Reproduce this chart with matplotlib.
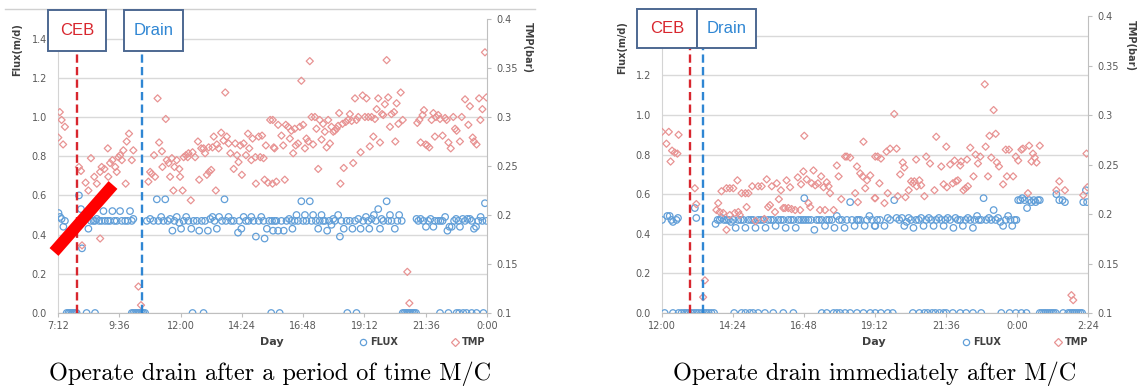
import numpy as np
import matplotlib.pyplot as plt
from matplotlib.patches import Rectangle
from matplotlib.lines import Line2D

# time is given in hours of the day (24+ = after midnight)
# ---------------- left chart: drain a while after M/C ----------------
left_flux = [
    (7.22, .51), (7.28, .49), (7.34, .48), (7.41, .44), (7.47, .47),
    (8.02, .60), (8.10, .53), (8.14, .33), (8.26, .48), (8.39, .43), (8.49, .47), (8.59, .47), (8.65, .47),
    (8.72, .48), (8.81, .47), (8.91, .47), (8.98, .52), (9.04, .47), (9.15, .47), (9.24, .47), (9.33, .52),
    (9.41, .47), (9.50, .47), (9.63, .52), (9.70, .47), (9.83, .47), (9.93, .47), (10.02, .52), (10.09, .47),
    (10.15, .48),
    (10.68, .47), (10.81, .48), (10.94, .47), (11.07, .58), (11.13, .47), (11.24, .49), (11.33, .47), (11.40, .58),
    (11.50, .47), (11.59, .48), (11.68, .42), (11.76, .47), (11.85, .49), (11.95, .46), (12.02, .43), (12.12, .47),
    (12.22, .49), (12.31, .47), (12.42, .43), (12.51, .47), (12.64, .47), (12.73, .42), (12.83, .47), (12.96, .47),
    (13.07, .42), (13.16, .48), (13.25, .49), (13.33, .47), (13.42, .43), (13.51, .49), (13.62, .47), (13.72, .58),
    (13.78, .47), (13.88, .49), (13.98, .47), (14.08, .47), (14.25, .41), (14.30, .47), (14.38, .43), (14.47, .49),
    (14.56, .47), (14.66, .47), (14.77, .49), (14.86, .47), (14.95, .39), (15.06, .47), (15.16, .49), (15.25, .47),
    (15.29, .38), (15.38, .43), (15.47, .47), (15.58, .47), (15.68, .47),
    (15.62, .42), (15.75, .47), (15.82, .42), (15.95, .47), (16.04, .42), (16.15, .47), (16.25, .48), (16.34, .47),
    (16.38, .43), (16.47, .47), (16.54, .50), (16.60, .47), (16.73, .57), (16.80, .47), (16.87, .50), (16.93, .47),
    (17.06, .57), (17.13, .47), (17.19, .50), (17.30, .47), (17.39, .43), (17.45, .47), (17.52, .50), (17.58, .47),
    (17.65, .47), (17.74, .42), (17.82, .47), (17.91, .45), (17.98, .48), (18.04, .47), (18.17, .50), (18.24, .39),
    (18.30, .47), (18.39, .43), (18.50, .47), (18.63, .47), (18.73, .43), (18.83, .47), (18.96, .48), (19.05, .43),
    (19.15, .47), (19.26, .49), (19.35, .47), (19.39, .43), (19.48, .48), (19.57, .50), (19.65, .47), (19.74, .53),
    (19.81, .43), (19.87, .48), (19.94, .47), (20.07, .57), (20.13, .47), (20.20, .50), (20.26, .47), (20.39, .43),
    (20.49, .47), (20.56, .50), (20.66, .47),
    (21.24, .48), (21.31, .47), (21.40, .48), (21.51, .47), (21.61, .44), (21.70, .47), (21.79, .48), (21.90, .44),
    (21.96, .47), (22.09, .47), (22.18, .47), (22.26, .47), (22.36, .49), (22.45, .42), (22.53, .44), (22.62, .44),
    (22.71, .47), (22.79, .48), (22.88, .47), (22.94, .44), (23.05, .48), (23.14, .47), (23.23, .48), (23.33, .48),
    (23.40, .47), (23.49, .43), (23.57, .44), (23.66, .47), (23.75, .49), (23.82, .47), (23.92, .56), (23.98, .47),
]
# times where flux was zero (stopped)
left_flux_off = [7.54, 7.61, 7.67, 7.74, 7.80, 7.87, 7.93, 8.32, 8.65,
                 10.09, 10.15, 10.22, 10.28, 10.35, 10.41, 10.48, 10.54, 10.61,
                 12.47, 12.90, 15.55, 15.88, 18.53, 18.89,
                 20.70, 20.76, 20.83, 20.89, 20.96, 21.02, 21.09, 21.15, 21.22,
                 22.16, 22.49, 22.81, 22.91, 23.07, 23.20, 23.40, 23.59, 23.86]
left_tmp = [
    (7.27, .305), (7.34, .297), (7.47, .290), (7.21, .279), (7.40, .272),
    (8.02, .249), (8.10, .245), (8.28, .233), (8.39, .225), (8.49, .258), (8.62, .239), (8.72, .232), (8.85, .244),
    (8.91, .249), (9.02, .247), (9.15, .268), (9.17, .239), (9.24, .253), (9.33, .256), (9.44, .249), (9.50, .244),
    (9.57, .259), (9.63, .261), (9.70, .256), (9.76, .266), (9.85, .232), (9.89, .275), (9.98, .283), (10.09, .256),
    (10.15, .266), (8.14, .169), (8.85, .176), (10.35, .127), (10.45, .108),
    (10.74, .234), (10.81, .244), (10.87, .242), (10.96, .261), (11.00, .239), (11.10, .319), (11.16, .274),
    (11.27, .265), (11.29, .249), (11.42, .298), (11.46, .256), (11.53, .253), (11.59, .239), (11.66, .258),
    (11.72, .225), (11.76, .249), (11.85, .256), (11.95, .247), (11.98, .239), (12.08, .225), (12.12, .259),
    (12.21, .261), (12.28, .259), (12.31, .263), (12.40, .215), (12.47, .264), (12.57, .259), (12.68, .275),
    (12.73, .236), (12.81, .268), (12.90, .268), (12.96, .263), (13.03, .241), (13.10, .269), (13.12, .244),
    (13.20, .246), (13.25, .269), (13.30, .280), (13.38, .225), (13.42, .272), (13.49, .268), (13.59, .284),
    (13.68, .276), (13.75, .325), (13.81, .280), (13.88, .273), (13.95, .263), (14.08, .247), (14.14, .273),
    (14.21, .261), (14.27, .254), (14.34, .271), (14.40, .241), (14.47, .273), (14.56, .261), (14.64, .283),
    (14.69, .268), (14.77, .256), (14.82, .278), (14.93, .259), (14.95, .232), (15.06, .280), (15.12, .259),
    (15.19, .281), (15.25, .258), (15.29, .236), (15.34, .271), (15.42, .233), (15.51, .297), (15.61, .297),
    (15.68, .268),
    (15.60, .232), (15.65, .269), (15.75, .234), (15.82, .292), (15.95, .281), (16.02, .271), (16.08, .236),
    (16.12, .292), (16.21, .290), (16.28, .278), (16.34, .286), (16.41, .263), (16.47, .288), (16.51, .271),
    (16.60, .273), (16.67, .290), (16.73, .337), (16.80, .292), (16.87, .268), (16.93, .278), (17.00, .275),
    (17.06, .357), (17.13, .300), (17.19, .272), (17.26, .300), (17.32, .288), (17.39, .247), (17.45, .297),
    (17.52, .277), (17.58, .293), (17.65, .285), (17.72, .269), (17.78, .297), (17.85, .273), (17.91, .290),
    (17.98, .285), (18.04, .286), (18.11, .288), (18.17, .291), (18.21, .304), (18.26, .232), (18.34, .293),
    (18.39, .248), (18.47, .295), (18.56, .297), (18.63, .303), (18.70, .296), (18.76, .253), (18.83, .319),
    (18.89, .297), (18.96, .300), (19.05, .264), (19.13, .322), (19.22, .300), (19.28, .319), (19.35, .300),
    (19.41, .270), (19.48, .300), (19.55, .280), (19.61, .298), (19.68, .308), (19.74, .319), (19.81, .274),
    (19.89, .303), (19.94, .302), (20.00, .313), (20.07, .358), (20.13, .320), (20.20, .290), (20.26, .303),
    (20.36, .305), (20.41, .275), (20.46, .314), (20.53, .293), (20.62, .325), (20.70, .297),
    (20.88, .142), (20.96, .110),
    (21.27, .294), (21.35, .297), (21.40, .274), (21.48, .302), (21.53, .307), (21.60, .272), (21.66, .271),
    (21.74, .269), (21.83, .297), (21.90, .304), (21.96, .280), (22.00, .300), (22.09, .302), (22.16, .298),
    (22.26, .281), (22.36, .299), (22.42, .297), (22.49, .274), (22.58, .268), (22.68, .300), (22.75, .288),
    (22.81, .286), (22.94, .275), (23.01, .300), (23.14, .318), (23.27, .292), (23.33, .311), (23.44, .279),
    (23.49, .275), (23.59, .272), (23.69, .319), (23.74, .297), (23.82, .308), (23.92, .366), (23.98, .320),
]
left_ceb = 7.95
left_drain = 10.49
left_xticks = [7.2, 9.6, 12.0, 14.4, 16.8, 19.2, 21.6, 24.0]
left_xlabels = ['7:12', '9:36', '12:00', '14:24', '16:48', '19:12', '21:36', '0:00']

# ---------------- right chart: drain right after M/C ----------------
right_flux = [
    (12.00, .47), (12.18, .49), (12.26, .49), (12.32, .47), (12.37, .46), (12.49, .47), (12.54, .48),
    (13.11, .53), (13.16, .48),
    (13.81, .45), (13.88, .47), (13.95, .47), (14.01, .48), (14.10, .47), (14.18, .47), (14.26, .47), (14.33, .46),
    (14.41, .47), (14.49, .43), (14.58, .47), (14.67, .47), (14.75, .47), (14.82, .43), (14.92, .47), (15.01, .47),
    (15.08, .47), (15.16, .43), (15.25, .47), (15.34, .47), (15.42, .47), (15.50, .43), (15.59, .47), (15.68, .47),
    (15.76, .47), (15.84, .44), (15.93, .47), (16.02, .47), (16.10, .47), (16.18, .43), (16.27, .47), (16.36, .47),
    (16.44, .47), (16.52, .43), (16.61, .47), (16.70, .47), (16.78, .47), (16.81, .58), (16.86, .47), (16.95, .47),
    (17.04, .47), (17.15, .42), (17.23, .47), (17.31, .47), (17.40, .47), (17.51, .44), (17.57, .47), (17.65, .47),
    (17.74, .47), (17.83, .43), (17.91, .49), (17.99, .47), (18.08, .47), (18.17, .43), (18.25, .47), (18.36, .56),
    (18.42, .47), (18.51, .44), (18.59, .47), (18.64, .47), (18.70, .47), (18.85, .44), (18.93, .47), (19.01, .49),
    (19.10, .47), (19.19, .44), (19.27, .47),
    (19.21, .44), (19.37, .47), (19.52, .44), (19.63, .48), (19.71, .47), (19.85, .57), (19.93, .48), (20.02, .47),
    (20.11, .48), (20.19, .44), (20.27, .46), (20.34, .48), (20.42, .47), (20.50, .43), (20.59, .47), (20.68, .47),
    (20.76, .48), (20.84, .44), (20.93, .47), (21.02, .48), (21.10, .47), (21.18, .44), (21.27, .47), (21.36, .48),
    (21.44, .47), (21.52, .44), (21.58, .47), (21.66, .48), (21.74, .47), (21.85, .43), (21.92, .48), (22.00, .47),
    (22.08, .47), (22.17, .44), (22.26, .47), (22.34, .48), (22.42, .47), (22.51, .43), (22.57, .47), (22.65, .49),
    (22.71, .47), (22.79, .47), (22.87, .58), (22.96, .47), (23.05, .48), (23.13, .47), (23.21, .52), (23.28, .47),
    (23.36, .48), (23.44, .46), (23.53, .44), (23.62, .47), (23.70, .49), (23.78, .47), (23.84, .44), (23.92, .47),
    (23.98, .47),
    (24.04, .57), (24.11, .57), (24.18, .58), (24.26, .57), (24.34, .53), (24.41, .57), (24.49, .56), (24.57, .57),
    (24.63, .56), (24.71, .57), (24.77, .57), (25.33, .60), (25.43, .57), (25.54, .57), (25.62, .56), (26.24, .56),
    (26.33, .62), (26.37, .56),
]
right_flux_off = [12.09, 12.37,
                  12.56, 12.66, 12.75, 12.82, 12.90, 12.99, 13.08, 13.16, 13.24, 13.33, 13.42, 13.50, 13.58, 13.67,
                  13.76,
                  14.44, 14.69, 14.82, 14.97, 15.08, 15.25, 15.48, 15.76, 16.10, 16.44, 17.40, 17.57, 17.80, 17.91,
                  18.02, 18.19, 18.36, 18.59, 18.81, 19.04, 19.21,
                  19.40, 19.63, 19.80, 20.48, 20.70, 20.87, 20.98, 21.13, 21.24, 21.38, 21.52, 21.61, 21.83, 22.08,
                  22.28, 22.51, 22.79, 23.47, 23.75, 23.96, 24.15, 24.32,
                  24.77, 24.84, 24.91, 24.97, 25.04, 25.11, 25.18, 25.24, 25.31, 25.56,
                  25.73, 25.80, 25.87, 25.93, 26.00, 26.07, 26.14, 26.20]
right_tmp = [
    (12.00, .283), (12.23, .283), (12.15, .271), (12.56, .280), (12.34, .264), (12.43, .262), (12.52, .261),
    (12.29, .253), (13.11, .226), (13.16, .210), (13.45, .133), (13.39, .116),
    (13.84, .204), (13.90, .211), (13.95, .202), (14.01, .223), (14.07, .201), (14.18, .226), (14.18, .184),
    (14.29, .226), (14.29, .199), (14.41, .226), (14.46, .201), (14.55, .234), (14.58, .202), (14.63, .199),
    (14.69, .221), (14.82, .221), (14.86, .207), (14.92, .221), (15.05, .228), (15.16, .193), (15.25, .228),
    (15.37, .228), (15.46, .195), (15.54, .235), (15.59, .207), (15.65, .209), (15.71, .228), (15.82, .202),
    (15.88, .231), (15.95, .215), (16.02, .224), (16.10, .206), (16.16, .206), (16.21, .234), (16.27, .206),
    (16.33, .227), (16.38, .205), (16.50, .204), (16.59, .237), (16.67, .204), (16.70, .230), (16.78, .243),
    (16.81, .279), (16.89, .235), (16.95, .211), (17.01, .207), (17.06, .231), (17.12, .244), (17.18, .229),
    (17.27, .231), (17.34, .204), (17.38, .238), (17.46, .227), (17.51, .204), (17.57, .232), (17.63, .228),
    (17.68, .221), (17.80, .204), (17.91, .249), (17.97, .238), (18.06, .215), (18.19, .258), (18.25, .258),
    (18.36, .257), (18.53, .221), (18.59, .248), (18.62, .212), (18.70, .241), (18.78, .238), (18.81, .273),
    (18.87, .226), (18.93, .234), (19.04, .239), (19.21, .258), (19.19, .216),
    (19.21, .216), (19.29, .258), (19.35, .231), (19.40, .256), (19.52, .211), (19.63, .221), (19.59, .263),
    (19.71, .266), (19.85, .301), (19.93, .266), (19.97, .218), (20.05, .240), (20.14, .252), (20.19, .247),
    (20.23, .217), (20.34, .224), (20.42, .233), (20.48, .231), (20.53, .233), (20.61, .228), (20.70, .234),
    (20.76, .229), (20.59, .255), (20.87, .218), (20.93, .258), (21.06, .251), (21.21, .224), (21.27, .278),
    (21.44, .248), (21.52, .230), (21.61, .268), (21.63, .227), (21.74, .250), (21.83, .231), (21.89, .254),
    (21.94, .233), (22.00, .234), (22.08, .249), (22.11, .253), (22.19, .224), (22.26, .226), (22.31, .255),
    (22.34, .228), (22.42, .267), (22.53, .238), (22.60, .260), (22.68, .251), (22.76, .258), (22.91, .331),
    (22.94, .268), (23.02, .238), (23.07, .279), (23.13, .257), (23.21, .305), (23.28, .281), (23.32, .252),
    (23.39, .248), (23.53, .230), (23.62, .265), (23.66, .238), (23.73, .265), (23.87, .238), (23.96, .258),
    (24.04, .254), (24.15, .265), (24.20, .266), (24.37, .221), (24.41, .269), (24.49, .253), (24.54, .261),
    (24.60, .257), (24.66, .252), (24.77, .269), (25.33, .224), (25.43, .233), (25.62, .224), (25.84, .118),
    (25.90, .113), (26.24, .219), (26.35, .261), (26.38, .227),
]
right_ceb = 12.95
right_drain = 13.39
right_xticks = [12.0, 14.4, 16.8, 19.2, 21.6, 24.0, 26.4]
right_xlabels = ['12:00', '14:24', '16:48', '19:12', '21:36', '0:00', '2:24']

flux_ticks = [0.0, 0.2, 0.4, 0.6, 0.8, 1.0, 1.2, 1.4]
tmp_ticks = [0.1, 0.15, 0.2, 0.25, 0.3, 0.35, 0.4]
tmp_labels = ['0.1', '0.15', '0.2', '0.25', '0.3', '0.35', '0.4']

W, H = 1141, 389
flux_c = '#629fd8'
tmp_c = '#e89393'
ceb_c = '#d8262e'
drain_c = '#2f86d3'
grid_c = '#d9d9d9'
txt_c = '#595959'
box_ec = '#4d6892'


def draw_chart(ax, flux, flux_off, tmp, ceb, drain, xticks, xlabels, ceb_box, drain_box, leg_xy):
    ax.set_xlim(xticks[0], xticks[-1])
    ax.set_ylim(0, 1.5)
    ax.set_yticks(flux_ticks)
    ax.set_yticklabels(['%.1f' % v for v in flux_ticks])
    ax.set_xticks(xticks)
    ax.set_xticklabels(xlabels)
    ax.yaxis.grid(True, color=grid_c, lw=1.0)
    ax.set_axisbelow(True)
    for s in ['top', 'right']:
        ax.spines[s].set_visible(False)
    ax.spines['left'].set_color('#d4d4d4')
    ax.spines['bottom'].set_color('#bfbfbf')
    ax.tick_params(axis='x', length=3, color='#bfbfbf', labelcolor=txt_c, labelsize=7, pad=3)
    ax.tick_params(axis='y', length=0, labelcolor=txt_c, labelsize=7, pad=8)

    f = np.array(flux)
    ax.scatter(f[:, 0], f[:, 1], s=22, facecolors='none', edgecolors=flux_c, linewidths=0.9, zorder=3)
    ax.scatter(flux_off, np.zeros(len(flux_off)), s=22, facecolors='none', edgecolors=flux_c,
               linewidths=0.9, zorder=3)

    ax2 = ax.twinx()
    ax2.set_ylim(0.1, 0.4)
    ax2.set_yticks(tmp_ticks)
    ax2.set_yticklabels(tmp_labels)
    for s in ['top', 'left', 'bottom']:
        ax2.spines[s].set_visible(False)
    ax2.spines['right'].set_color('#bfbfbf')
    ax2.tick_params(axis='y', length=3, color='#bfbfbf', labelcolor=txt_c, labelsize=7, pad=4)
    t = np.array(tmp)
    ax2.scatter(t[:, 0], t[:, 1], marker='D', s=13, facecolors='none', edgecolors=tmp_c, linewidths=0.9, zorder=3)

    top = ceb_box[3]
    ax2.axvline(ceb, ymax=top, color=ceb_c, ls=(0, (3.5, 1.8)), lw=1.7, zorder=4)
    ax2.axvline(drain, ymax=top, color=drain_c, ls=(0, (3.5, 1.8)), lw=1.7, zorder=4)

    for (x0, x1, y1, y0), label, c in [(ceb_box, 'CEB', ceb_c), (drain_box, 'Drain', drain_c)]:
        r = Rectangle((x0, y0), x1 - x0, y1 - y0, transform=ax.transAxes, fc='white', ec=box_ec,
                      lw=1.4, zorder=10)
        fig.add_artist(r)
        fig.text((x0 + x1) / 2, (y0 + y1) / 2, label, transform=ax.transAxes, ha='center', va='center',
                 color=c, fontsize=12, family='Liberation Sans', zorder=11)

    hs = [Line2D([], [], ls='', marker='o', ms=4.5, mfc='none', mec=flux_c, mew=0.9),
          Line2D([], [], ls='', marker='D', ms=3.6, mfc='none', mec=tmp_c, mew=0.9)]
    leg = ax.legend(hs, ['FLUX', 'TMP'], loc='center', bbox_to_anchor=leg_xy, ncol=2, frameon=False,
                    fontsize=7, handlelength=0.8, handletextpad=0.3, columnspacing=5.5,
                    bbox_transform=ax.transAxes)
    for tx in leg.get_texts():
        tx.set_color('#404040')
        tx.set_fontweight('bold')
    return ax2


fig = plt.figure(figsize=(W / 100, H / 100), dpi=100)
axL = fig.add_axes([58 / W, 1 - 313 / H, 429 / W, 294 / H])
axR = fig.add_axes([662 / W, 1 - 313 / H, 426 / W, 297 / H])

# boxes: (x0, x1, ytop, ybottom) in axes fraction
draw_chart(axL, left_flux, left_flux_off, left_tmp, left_ceb, left_drain, left_xticks, left_xlabels,
           (-0.023, 0.112, 1.031, 0.891), (0.154, 0.291, 1.031, 0.891), (0.85, -0.099))
draw_chart(axR, right_flux, right_flux_off, right_tmp, right_ceb, right_drain, right_xticks, right_xlabels,
           (-0.059, 0.082, 1.024, 0.892), (0.082, 0.221, 1.024, 0.892), (0.853, -0.098))

# axis titles
for x, y, s, rot in [(17, 50, 'Flux(m/d)', 90), (528, 48, 'TMP(bar)', 270),
                     (622, 48, 'Flux(m/d)', 90), (1131, 46, 'TMP(bar)', 270)]:
    fig.text(x / W, 1 - y / H, s, rotation=rot, ha='center', va='center', fontsize=7,
             fontweight='bold', color='#404040')
for x in [272, 874]:
    fig.text(x / W, 1 - 342 / H, 'Day', ha='center', va='center', fontsize=8, fontweight='bold', color='#404040')

# chart frame line and the red slash mark on the left chart
fig.add_artist(Line2D([5 / W, 535 / W], [1 - 9 / H, 1 - 9 / H], color='#d0d0d0', lw=1.0))
fig.add_artist(Line2D([54 / W, 113 / W], [1 - 252 / H, 1 - 185 / H], color='#ff0000', lw=8.5,
                      solid_capstyle='butt', zorder=12))

# captions
fig.text(270 / W, 1 - 374 / H, 'Operate drain after a period of time M/C', ha='center', va='center',
         family='cmr10', fontsize=17.5)
fig.text(875 / W, 1 - 374 / H, 'Operate drain immediately after M/C', ha='center', va='center',
         family='cmr10', fontsize=17.5)

fig.savefig('out.png', dpi=100)
